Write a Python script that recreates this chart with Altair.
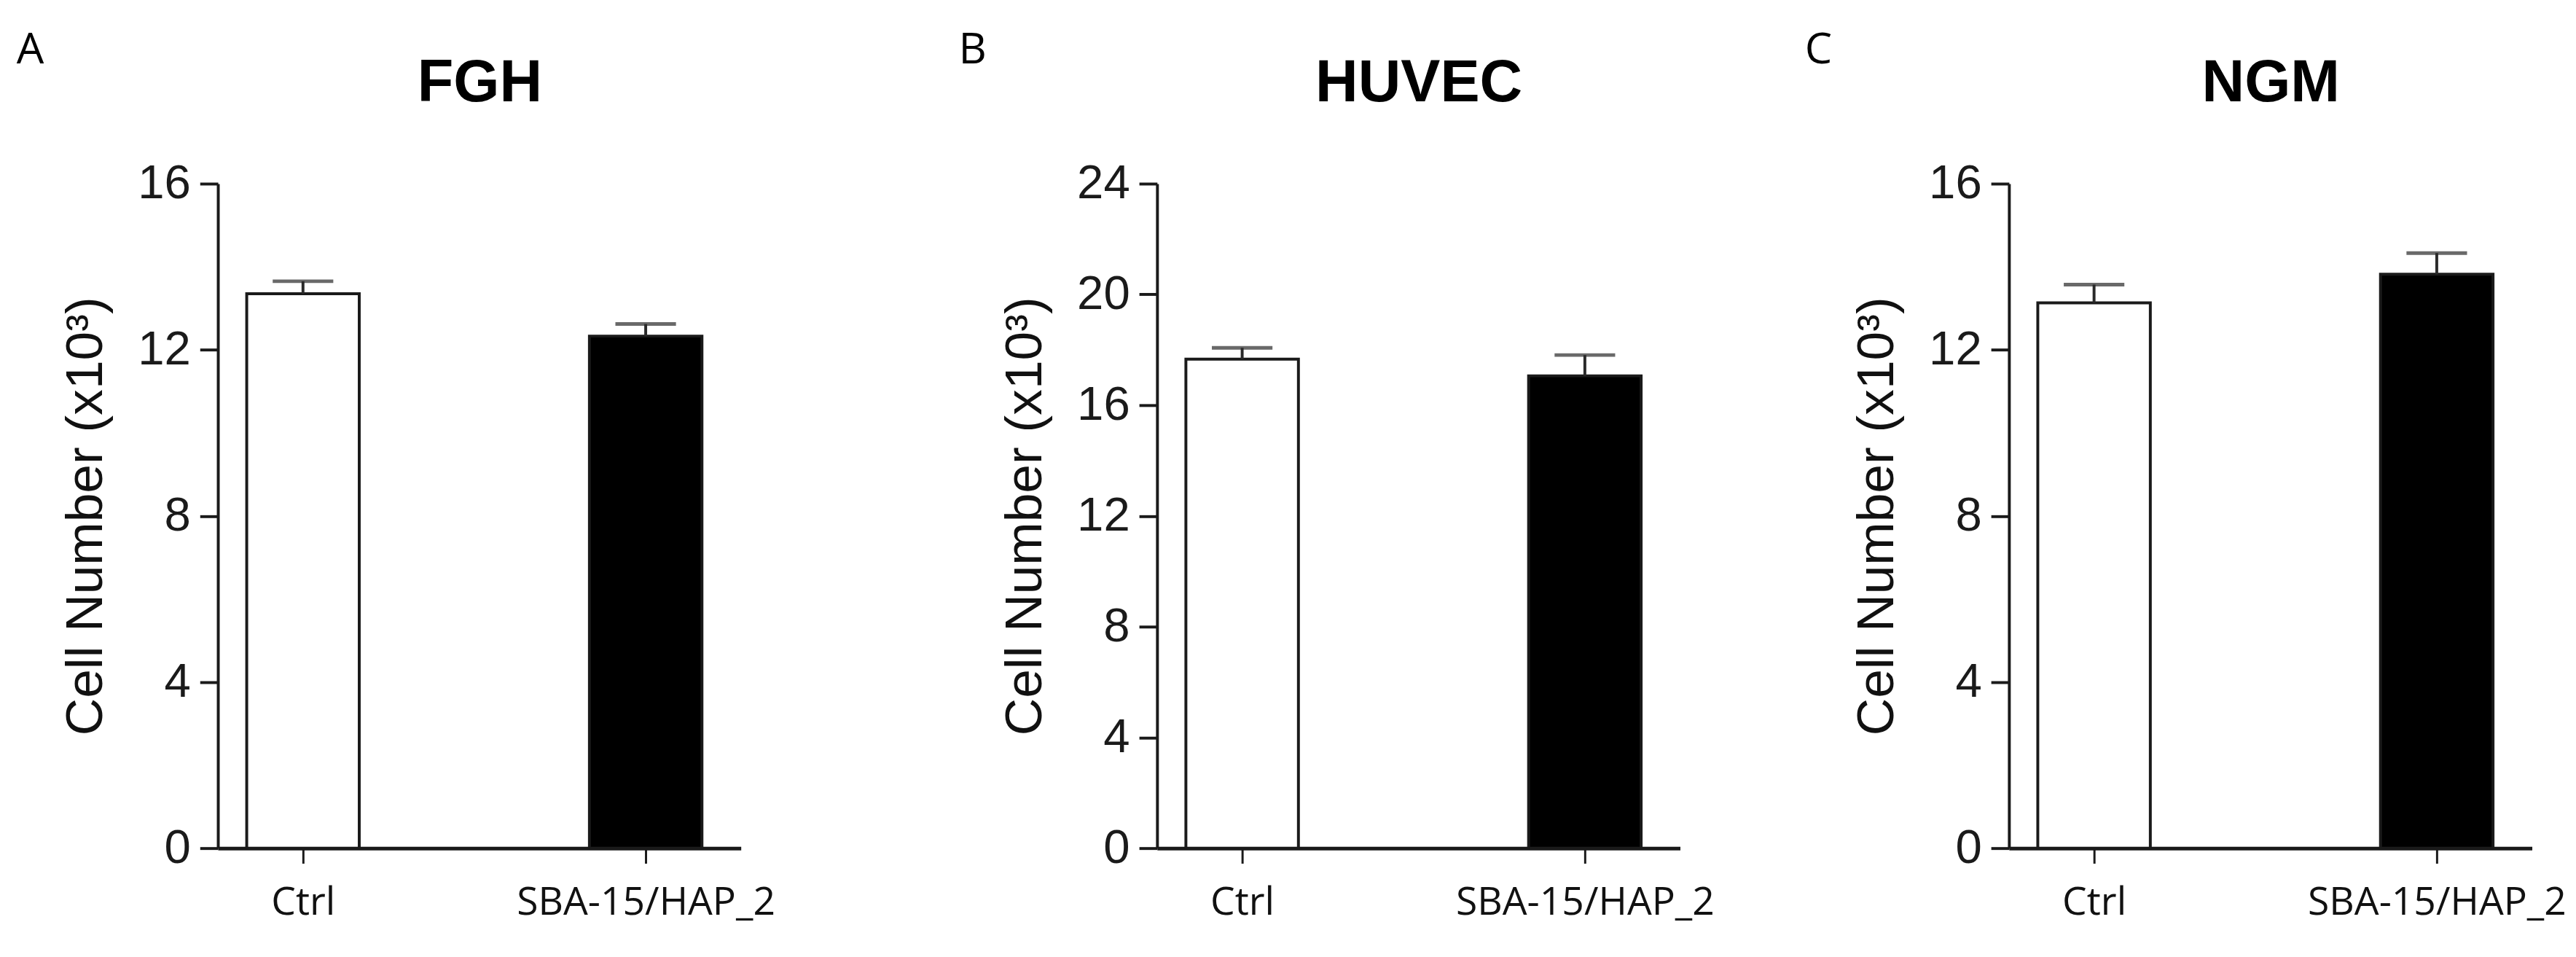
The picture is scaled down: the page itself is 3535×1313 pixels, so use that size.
import altair as alt
import pandas as pd

# ---------------- data ----------------
groups = ["Ctrl", "SBA-15/HAP_2"]
panel_names = ["FGH", "HUVEC", "NGM"]
panel_letters = ["A", "B", "C"]

fgh_mean = [13.35, 12.33]
fgh_upper = [13.65, 12.62]
huvec_mean = [17.66, 17.06]
huvec_upper = [18.07, 17.81]
ngm_mean = [13.13, 13.82]
ngm_upper = [13.57, 14.33]

y_max = [16, 24, 16]
y_ticks_fgh = [0, 4, 8, 12, 16]
y_ticks_huvec = [0, 4, 8, 12, 16, 20, 24]
y_ticks_ngm = [0, 4, 8, 12, 16]
y_title = "Cell Number (x10³)"

# ---------------- style ----------------
W, H = 725, 921
letter_dx = [-60, -56, -64]
AX = "#1a1a1a"
SANS = "Liberation Sans"
LAB = "Open Sans"


def panel(name, letter, means, uppers, ymax, ticks, dx):
    df = pd.DataFrame({"group": groups, "mean": means, "upper": uppers})
    xs = alt.Scale(type="point", domain=groups, padding=0.263, align=0.472)
    ys = alt.Scale(domain=[0, ymax], nice=False, zero=True)
    y_axis = alt.Axis(
        values=ticks, title=y_title, grid=False, domainWidth=4,
        domainColor=AX, tickSize=25, tickWidth=4, tickColor=AX,
        labelFont=SANS, labelFontSize=66, labelColor="#1a1a1a",
        labelPadding=13, titleFont=SANS, titleFontSize=72,
        titleFontWeight="normal", titleColor="#111", titleX=-183,
        titleY=H / 2, titleAngle=270, titleBaseline="middle",
        titleAlign="center",
    )
    base = alt.Chart(df)

    bars = base.mark_bar(size=156, strokeWidth=4, stroke=AX).encode(
        x=alt.X(
            "group:N", scale=xs, sort=groups,
            axis=alt.Axis(
                orient="bottom", title=None, labelAngle=0, labelFont=LAB,
                labelFontSize=54, labelColor="#111", labelPadding=28,
                labelLimit=2000, tickSize=21, tickWidth=3, tickColor=AX,
                domainWidth=5, domainColor=AX, grid=False,
            ),
        ),
        y=alt.Y("mean:Q", scale=ys, axis=y_axis),
        fill=alt.Fill(
            "group:N", scale=alt.Scale(domain=groups, range=["#ffffff", "#000000"]),
            legend=None,
        ),
    )

    stems = base.mark_rule(strokeWidth=4, color="#2a2a2a").encode(
        x=alt.X(
            "group:N", scale=xs, sort=groups,
            axis=alt.Axis(
                orient="top", title=name, labels=False, ticks=False, domain=False,
                grid=False, titleFont=SANS, titleFontSize=82, titleFontWeight="bold",
                titleColor="#000", titlePadding=98,
            ),
        ),
        y=alt.Y("mean:Q", scale=ys, axis=y_axis),
        y2="upper:Q",
    )

    caps = base.mark_tick(size=84, thickness=5, color="#2a2a2a").encode(
        x=alt.X("group:N", scale=xs, sort=groups, axis=None),
        y=alt.Y("upper:Q", scale=ys, axis=y_axis),
    )

    return (
        alt.layer(bars, stems, caps)
        .resolve_axis(x="independent", y="shared")
        .properties(
            width=W, height=H,
            title=alt.TitleParams(
                letter, anchor="start", frame="bounds", font=LAB, fontSize=60,
                fontWeight="normal", color="#000", dx=dx, baseline="alphabetic",
                offset=0, dy=74,
            ),
        )
    )


pA = panel(panel_names[0], panel_letters[0], fgh_mean, fgh_upper, y_max[0], y_ticks_fgh, letter_dx[0])
pB = panel(panel_names[1], panel_letters[1], huvec_mean, huvec_upper, y_max[1], y_ticks_huvec, letter_dx[1])
pC = panel(panel_names[2], panel_letters[2], ngm_mean, ngm_upper, y_max[2], y_ticks_ngm, letter_dx[2])

chart = (
    alt.hconcat(alt.hconcat(pA, pB, spacing=254), pC, spacing=125)
    .properties(padding={"left": 15, "top": 25, "right": 5, "bottom": 5}, background="white")
    .configure_view(stroke=None)
)

chart.save("out.html", embed_options={"renderer": "svg", "actions": False})
